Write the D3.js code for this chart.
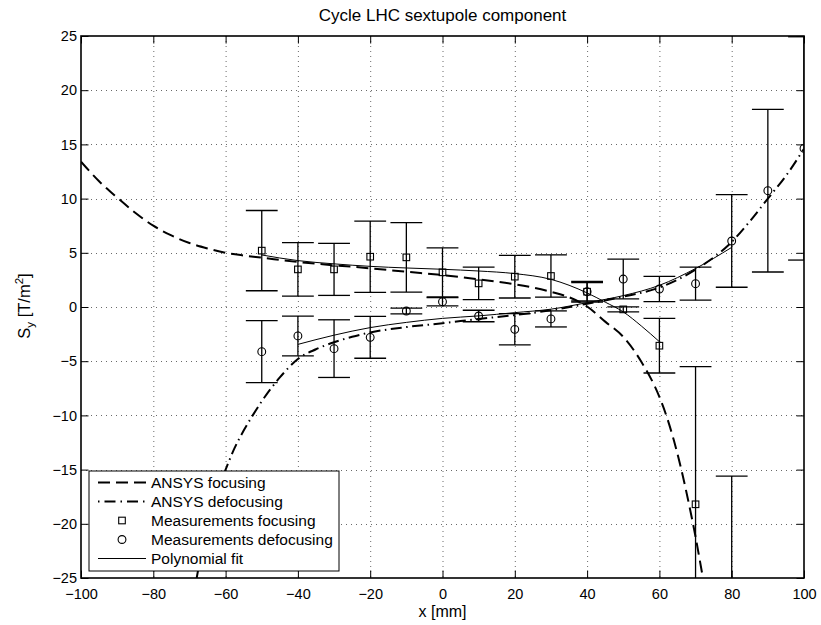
<!DOCTYPE html>
<html>
<head>
<meta charset="utf-8">
<script src="https://cdn.jsdelivr.net/npm/d3@7"></script>
<style>
  body { margin: 0; background: #fff; }
  svg { display: block; }
  text { font-family: "Liberation Sans", Arial, Helvetica, sans-serif; fill: #000; }
</style>
</head>
<body>
<svg id="chart" width="821" height="625"></svg>
<script>
// Axis ticks
const xTickValues = [-100, -80, -60, -40, -20, 0, 20, 40, 60, 80, 100];
const yTickValues = [-25, -20, -15, -10, -5, 0, 5, 10, 15, 20, 25];

// ANSYS simulation, focusing magnet
const ansysFocX = [-100, -95, -90, -85, -80, -75, -70, -65, -60, -55, -50, -40, -30, -20, -10, 0, 10, 20, 30, 35, 40, 45, 50, 55, 60, 62, 64, 66, 68, 70, 72, 72.5];
const ansysFocY = [13.4, 11.6, 10.1, 8.7, 7.5, 6.6, 5.9, 5.4, 5.0, 4.75, 4.55, 4.15, 3.85, 3.57, 3.25, 2.95, 2.55, 2.1, 1.4, 0.9, 0.05, -1.35, -2.75, -5.05, -8.3, -10.1, -12.3, -14.9, -17.9, -21.2, -24.9, -25.8];

// ANSYS simulation, defocusing magnet
const ansysDefX = [-68, -66, -64, -62, -60, -57.5, -55, -52.5, -50, -45, -40, -35, -30, -25, -20, -10, 0, 10, 20, 30, 40, 50, 60, 70, 80, 85, 90, 95, 100];
const ansysDefY = [-25, -21.5, -18.8, -16.7, -15.0, -13.0, -11.4, -10.0, -8.7, -6.5, -4.8, -3.9, -3.25, -2.75, -2.35, -1.85, -1.5, -1.1, -0.75, -0.3, 0.3, 0.95, 1.8, 3.45, 6.0, 7.9, 10.0, 12.1, 14.6];

// Measurement positions
const measX = [-50, -40, -30, -20, -10, 0, 10, 20, 30, 40, 50, 60, 70, 80, 90, 100];
// Focusing measurements and their errors
const measFocY   = [5.2, 3.47, 3.47, 4.64, 4.58, 3.2, 2.18, 2.8, 2.86, 1.41, -0.22, -3.57, -18.2, -38.0, null, null];
const measFocErr = [3.7, 2.46, 2.4, 3.29, 3.2, 2.26, 1.5, 1.97, 1.95, 0.95, 0.23, 2.52, 12.7, 22.4, null, null];
// Defocusing measurements and their errors
const measDefY   = [-4.12, -2.67, -3.84, -2.8, -0.37, 0.49, -0.83, -2.06, -1.1, 1.41, 2.58, 1.66, 2.15, 6.09, 10.73, 14.63];
const measDefErr = [2.86, 1.83, 2.66, 1.93, 0.27, 0.38, 0.53, 1.44, 0.74, 0.85, 1.83, 1.16, 1.52, 4.27, 7.5, 10.3];

// Polynomial fits of the measurements
const fitFocX = [-50, -40, -30, -20, -10, 0, 10, 20, 30, 40, 45, 50, 55, 60];
const fitFocY = [4.8, 4.28, 3.98, 3.75, 3.6, 3.48, 3.32, 3.08, 2.55, 1.3, 0.45, -0.45, -1.75, -3.2];
const fitDefX = [-40, -30, -20, -10, 0, 10, 20, 30, 40, 50, 60, 70, 80];
const fitDefY = [-3.45, -2.6, -1.9, -1.42, -1.05, -0.82, -0.52, -0.2, 0.4, 1.05, 2.0, 3.55, 5.5];

const legendLabels = ["ANSYS focusing", "ANSYS defocusing", "Measurements focusing", "Measurements defocusing", "Polynomial fit"];

const svg = d3.select("#chart");
const plot = { left: 81, right: 804, top: 36, bottom: 578 };
const x = d3.scaleLinear().domain([-100, 100]).range([plot.left, plot.right]);
const y = d3.scaleLinear().domain([-25, 25]).range([plot.bottom, plot.top]);

const dashF = "12,6";
const dashD = "11,4.5,1.5,4.5";
const capHalf = 4.4; // error-bar cap half width in mm

svg.append("rect").attr("width", 821).attr("height", 625).attr("fill", "#fff");

svg.append("defs").append("clipPath").attr("id", "clip")
  .append("rect")
  .attr("x", plot.left).attr("y", plot.top)
  .attr("width", plot.right - plot.left).attr("height", plot.bottom - plot.top);

// dotted grid
const grid = svg.append("g").attr("stroke", "#6a6a6a").attr("stroke-width", 1).attr("stroke-dasharray", "1,4");
grid.selectAll(".gx").data(xTickValues.slice(1, -1)).join("line")
  .attr("x1", d => x(d) + 0.5).attr("x2", d => x(d) + 0.5)
  .attr("y1", plot.top).attr("y2", plot.bottom);
grid.selectAll(".gy").data(yTickValues.slice(1, -1)).join("line")
  .attr("y1", d => Math.round(y(d)) + 0.5).attr("y2", d => Math.round(y(d)) + 0.5)
  .attr("x1", plot.left).attr("x2", plot.right);

const data = svg.append("g").attr("clip-path", "url(#clip)");
const line = d3.line().curve(d3.curveMonotoneX).x(d => x(d[0])).y(d => y(d[1]));

// ANSYS curves
data.append("path").datum(d3.zip(ansysFocX, ansysFocY)).attr("d", line)
  .attr("fill", "none").attr("stroke", "#000").attr("stroke-width", 2).attr("stroke-dasharray", dashF);
data.append("path").datum(d3.zip(ansysDefX, ansysDefY)).attr("d", line)
  .attr("fill", "none").attr("stroke", "#000").attr("stroke-width", 2).attr("stroke-dasharray", dashD);

// polynomial fits
data.append("path").datum(d3.zip(fitFocX, fitFocY)).attr("d", line)
  .attr("fill", "none").attr("stroke", "#000").attr("stroke-width", 1);
data.append("path").datum(d3.zip(fitDefX, fitDefY)).attr("d", line)
  .attr("fill", "none").attr("stroke", "#000").attr("stroke-width", 1);

// error bars and markers
function errorBars(vals, errs) {
  const pts = measX.map((xv, i) => ({ x: xv, v: vals[i], e: errs[i] })).filter(d => d.v !== null);
  const g = data.append("g").attr("stroke", "#000").attr("stroke-width", 1.3).attr("fill", "none");
  pts.forEach(d => {
    g.append("line").attr("x1", x(d.x)).attr("x2", x(d.x)).attr("y1", y(d.v - d.e)).attr("y2", y(d.v + d.e));
    [d.v - d.e, d.v + d.e].forEach(yy => {
      g.append("line").attr("x1", x(d.x - capHalf)).attr("x2", x(d.x + capHalf)).attr("y1", y(yy)).attr("y2", y(yy));
    });
  });
  return pts;
}
const focPts = errorBars(measFocY, measFocErr);
const defPts = errorBars(measDefY, measDefErr);

data.append("g").selectAll("rect").data(focPts).join("rect")
  .attr("x", d => x(d.x) - 3.3).attr("y", d => y(d.v) - 3.3)
  .attr("width", 6.6).attr("height", 6.6)
  .attr("fill", "none").attr("stroke", "#000").attr("stroke-width", 1.1);
data.append("g").selectAll("circle").data(defPts).join("circle")
  .attr("cx", d => x(d.x)).attr("cy", d => y(d.v)).attr("r", 3.9)
  .attr("fill", "none").attr("stroke", "#000").attr("stroke-width", 1.1);

// axes with inward ticks on all four sides
const fmt = d3.format("");
const axB = svg.append("g").attr("transform", `translate(0,${plot.bottom})`)
  .call(d3.axisBottom(x).tickValues(xTickValues).tickFormat(fmt).tickSizeInner(-7.5).tickSizeOuter(0).tickPadding(10.5));
const axT = svg.append("g").attr("transform", `translate(0,${plot.top})`)
  .call(d3.axisTop(x).tickValues(xTickValues).tickFormat("").tickSizeInner(-7.5).tickSizeOuter(0));
const axL = svg.append("g").attr("transform", `translate(${plot.left},0)`)
  .call(d3.axisLeft(y).tickValues(yTickValues).tickFormat(fmt).tickSizeInner(-7.5).tickSizeOuter(0).tickPadding(4));
const axR = svg.append("g").attr("transform", `translate(${plot.right},0)`)
  .call(d3.axisRight(y).tickValues(yTickValues).tickFormat("").tickSizeInner(-7.5).tickSizeOuter(0));
[axB, axT, axL, axR].forEach(a => {
  a.select(".domain").remove();
  a.selectAll("line").attr("stroke", "#000").attr("stroke-width", 1);
  a.selectAll("text").attr("font-size", 14.5).attr("fill", "#000")
    .style("font-family", "\"Liberation Sans\", Arial, Helvetica, sans-serif");
});

svg.append("rect")
  .attr("x", plot.left).attr("y", plot.top)
  .attr("width", plot.right - plot.left).attr("height", plot.bottom - plot.top)
  .attr("fill", "none").attr("stroke", "#000").attr("stroke-width", 1.6);

// legend
const lg = svg.append("g");
lg.append("rect").attr("x", 89).attr("y", 471).attr("width", 250).attr("height", 100)
  .attr("fill", "#fff").attr("stroke", "#000").attr("stroke-width", 1);
const rowY = i => 482.5 + i * 19;
legendLabels.forEach((lab, i) => {
  const yy = rowY(i);
  if (i === 0 || i === 1 || i === 4) {
    lg.append("line").attr("x1", 98).attr("x2", 146).attr("y1", yy).attr("y2", yy)
      .attr("stroke", "#000").attr("stroke-width", i === 4 ? 1 : 2)
      .attr("stroke-dasharray", i === 0 ? dashF : i === 1 ? "1.5,5,11,5" : null);
  } else if (i === 2) {
    lg.append("rect").attr("x", 122 - 3.3).attr("y", yy - 3.3).attr("width", 6.6).attr("height", 6.6)
      .attr("fill", "none").attr("stroke", "#000").attr("stroke-width", 1.1);
  } else {
    lg.append("circle").attr("cx", 122).attr("cy", yy).attr("r", 3.9)
      .attr("fill", "none").attr("stroke", "#000").attr("stroke-width", 1.1);
  }
  lg.append("text").attr("x", 151).attr("y", yy).attr("dy", "0.36em")
    .attr("font-size", 15.5).text(lab);
});

// title and axis labels
svg.append("text").attr("x", (plot.left + plot.right) / 2).attr("y", 21)
  .attr("text-anchor", "middle").attr("font-size", 17).text("Cycle LHC sextupole component");
svg.append("text").attr("x", (plot.left + plot.right) / 2).attr("y", 617)
  .attr("text-anchor", "middle").attr("font-size", 16).text("x [mm]");
const yl = svg.append("text").attr("transform", "translate(30,306) rotate(-90)")
  .attr("text-anchor", "middle").attr("font-size", 16.5);
yl.append("tspan").text("S");
yl.append("tspan").attr("font-size", 11.5).attr("dy", 4).text("y");
yl.append("tspan").attr("dy", -4).text(" [T/m");
yl.append("tspan").attr("font-size", 11.5).attr("dy", -7).text("2");
yl.append("tspan").attr("dy", 7).text("]");
</script>
</body>
</html>
